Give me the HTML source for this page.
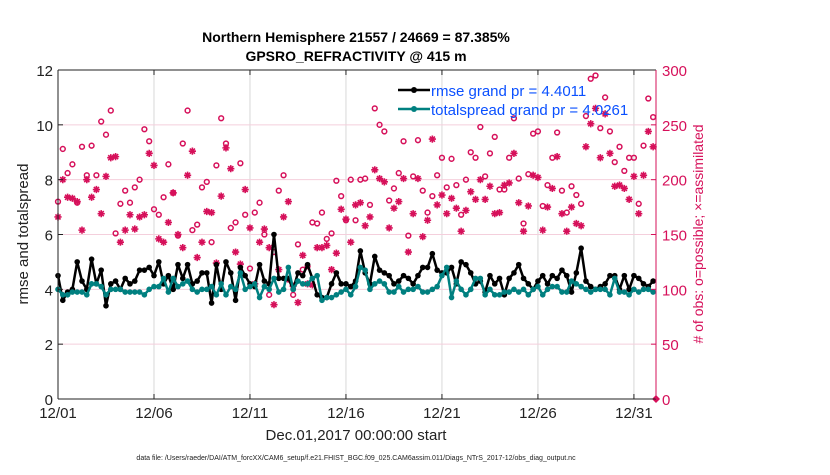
<!DOCTYPE html>
<html><head><meta charset="utf-8">
<style>
html,body{margin:0;padding:0;background:#fff;}
svg text{font-family:"Liberation Sans",Arial,sans-serif;}
</style></head>
<body>
<svg id="chart" width="830" height="470" viewBox="0 0 830 470" xmlns="http://www.w3.org/2000/svg">
<rect x="0" y="0" width="830" height="470" fill="#fff"/>
<text x="356" y="42" text-anchor="middle" font-size="14" font-weight="bold">Northern Hemisphere 21557 / 24669 = 87.385%</text>
<text x="356" y="61" text-anchor="middle" font-size="14" font-weight="bold">GPSRO_REFRACTIVITY @ 415 m</text>
<g id="grid"></g>
<g id="series"></g>
<g id="axes"></g>
<text transform="translate(28,234) rotate(-90)" text-anchor="middle" font-size="15" fill="#222">rmse and totalspread</text>
<text transform="translate(703,234) rotate(-90)" text-anchor="middle" font-size="14" fill="#d6105a"># of obs: o=possible; ×=assimilated</text>
<text x="356" y="440" text-anchor="middle" font-size="15" fill="#222">Dec.01,2017 00:00:00 start</text>
<text x="356" y="460" text-anchor="middle" font-size="7" fill="#222">data file: /Users/raeder/DAI/ATM_forcXX/CAM6_setup/f.e21.FHIST_BGC.f09_025.CAM6assim.011/Diags_NTrS_2017-12/obs_diag_output.nc</text>
<g>
<line x1="398" y1="90" x2="430" y2="90" stroke="#000" stroke-width="2.5"/>
<circle cx="414" cy="90" r="3" fill="#000"/>
<text x="431" y="96" font-size="15" fill="#0a50ff">rmse grand pr = 4.4011</text>
<line x1="398" y1="109" x2="430" y2="109" stroke="#008080" stroke-width="2.5"/>
<circle cx="414" cy="109" r="3" fill="#008080"/>
<text x="431" y="115" font-size="15" fill="#0a50ff">totalspread grand pr = 4.0261</text>
</g>
</svg>
<script>
const rmse=[4.5,3.6,3.9,4.0,5.0,4.3,4.0,5.1,4.2,4.7,3.4,4.2,4.3,4.0,4.4,4.2,4.3,4.7,4.7,4.8,4.5,5.0,4.2,4.5,4.0,4.9,4.4,4.9,4.2,4.3,4.6,4.6,3.5,4.9,4.0,5.0,4.6,3.6,4.8,4.5,4.2,4.1,4.9,4.3,4.2,6.0,4.4,4.4,4.4,4.0,4.6,4.5,4.9,4.4,3.8,3.7,3.7,4.2,4.6,4.2,4.2,4.1,
4.3,5.4,4.6,4.2,5.2,4.7,4.6,4.5,4.2,4.3,4.5,4.4,4.2,4.5,4.8,4.8,5.3,4.7,4.6,4.6,4.8,4.2,5.0,4.9,4.6,4.2,4.3,3.9,4.5,4.2,4.4,3.8,4.4,4.6,4.9,4.4,4.2,4.0,4.3,4.5,4.2,4.5,4.4,4.7,4.5,3.9,4.6,5.5,4.3,4.1,4.0,4.1,4.2,4.5,4.5,4.0,4.5,4.0,4.5,4.4,4.2,4.1,4.3];
const spread=[4.0,3.8,3.8,3.9,3.9,3.9,3.8,4.2,4.2,4.1,3.8,4.0,4.0,4.0,3.9,3.9,3.9,3.9,3.8,4.0,4.1,4.1,4.4,3.9,4.4,4.1,4.2,4.3,4.0,3.9,4.0,4.0,4.1,3.8,4.2,3.8,4.1,4.0,4.6,4.0,4.1,4.2,3.7,4.1,4.0,4.4,3.9,4.0,4.8,4.0,4.3,4.2,4.2,4.4,4.5,3.6,3.7,3.7,3.8,3.9,4.0,3.8,
4.1,4.8,4.7,4.0,4.2,4.3,4.2,3.9,3.9,4.1,3.9,4.0,4.0,4.1,3.9,3.9,4.0,4.1,4.5,4.8,3.7,4.3,4.0,3.8,4.0,4.4,4.4,3.8,4.0,3.8,3.8,3.9,3.9,4.0,3.9,4.0,3.8,4.0,4.1,3.8,4.0,4.1,4.1,3.9,3.9,4.3,4.2,4.1,4.0,3.9,4.0,4.0,4.0,3.8,4.4,3.9,3.9,3.8,4.0,3.9,4.0,4.0,3.9];
const possible=[180,228,206,214,179,230,204,231,204,253,241,263,151,178,190,179,193,200,246,235,173,168,184,214,188,149,233,263,154,159,193,198,143,213,256,233,156,161,215,168,119,170,179,150,95,134,190,204,109,95,141,118,121,161,160,170,146,151,199,185,163,200,
163,200,201,177,265,250,244,181,192,206,235,149,203,236,190,170,185,204,220,193,219,195,168,200,225,220,248,203,224,239,191,191,220,256,201,160,205,242,244,176,195,220,243,190,170,194,186,178,258,292,295,247,275,244,216,230,208,220,220,178,231,274,257];
const assim=[166,200,184,183,180,154,200,184,191,169,203,220,221,143,154,168,155,166,168,224,213,146,143,161,188,150,138,204,226,129,143,171,170,124,185,229,210,134,123,191,156,105,143,155,138,86,118,166,180,103,88,131,105,104,138,138,140,118,133,173,164,143,
177,179,158,166,209,201,198,156,174,180,201,134,169,201,148,163,237,177,186,169,183,174,153,172,189,182,200,182,194,169,170,195,197,224,179,153,176,204,202,154,175,192,221,169,153,175,160,158,230,251,265,220,260,224,194,195,192,182,203,169,204,244,230];
const xTickLabels=["12/01","12/06","12/11","12/16","12/21","12/26","12/31"];
const xTickDays=[0,5,10,15,20,25,30];
const yLeftTicks=[0,2,4,6,8,10,12];
const yRightTicks=[0,50,100,150,200,250,300];

const X0=58,X1=656,Y0=399,Y1=70,DAYS=31.15;
const xS=d=>X0+d*(X1-X0)/DAYS;
const yL=v=>Y0-v*(Y0-Y1)/12;
const yR=v=>Y0-v*(Y0-Y1)/300;
const NS="http://www.w3.org/2000/svg";
function mk(tag,attrs,parent){const e=document.createElementNS(NS,tag);for(const k in attrs)e.setAttribute(k,attrs[k]);parent.appendChild(e);return e;}
const grid=document.getElementById('grid'),ser=document.getElementById('series'),ax=document.getElementById('axes');

xTickDays.forEach((d,i)=>{
  const g=mk('line',{x1:xS(d),x2:xS(d),y1:Y1,y2:Y0,stroke:'#d8d8d8','stroke-width':1},grid);
  
  
  const t=mk('line',{x1:xS(d),x2:xS(d),y1:Y0,y2:Y0-5,stroke:'#222'},ax);
  
  
  const t2=mk('line',{x1:xS(d),x2:xS(d),y1:Y1,y2:Y1+5,stroke:'#222'},ax);
  
  
  const l=mk('text',{x:xS(d),y:Y0+19,'text-anchor':'middle','font-size':15,fill:'#222'},ax);
  l.textContent=xTickLabels[i];
  
  
});
yRightTicks.forEach(v=>{
  if(v>0&&v<300){const g=mk('line',{x1:X0,x2:X1,y1:yR(v),y2:yR(v),stroke:'#f4cfdc','stroke-width':1},grid);
  
  }
  const t=mk('line',{x1:X1,x2:X1-5,y1:yR(v),y2:yR(v),stroke:'#d6105a'},ax);
  
  
  const l=mk('text',{x:X1+6,y:yR(v)+6,'font-size':15,fill:'#d6105a'},ax);
  l.textContent=v;
  
  
});
yLeftTicks.forEach(v=>{
  const t=mk('line',{x1:X0,x2:X0+5,y1:yL(v),y2:yL(v),stroke:'#222'},ax);
  
  
  const l=mk('text',{x:X0-5,y:yL(v)+6,'text-anchor':'end','font-size':15,fill:'#222'},ax);
  l.textContent=v;
  
  
});
const frame=[[X0,Y1,X0,Y0,'#222'],[X0,Y0,X1,Y0,'#222'],[X0,Y1,X1,Y1,'#222'],[X1,Y1,X1,Y0,'#d6105a']];
frame.forEach(f=>{const a=mk('line',{x1:f[0],y1:f[1],x2:f[2],y2:f[3],stroke:f[4],'stroke-width':1},ax);
  
  });

const day=i=>i/4;
// possible circles
possible.forEach((v,i)=>{
  const c=mk('circle',{cx:xS(day(i)),cy:yR(v),r:2.4,fill:'none',stroke:'#d6105a','stroke-width':1.5},ser);
  
  
});
// assimilated asterisks
assim.forEach((v,i)=>{
  const x=xS(day(i)),y=yR(v),r=3.6;
  let d='';
  for(let k=0;k<4;k++){const a=k*Math.PI/4;d+=`M${x-r*Math.cos(a)},${y-r*Math.sin(a)}L${x+r*Math.cos(a)},${y+r*Math.sin(a)}`;}
  const p=mk('path',{d:d,stroke:'#d6105a','stroke-width':1.6,fill:'none'},ser);
  
  
});
function line(arr,col,name){
  const pts=arr.map((v,i)=>xS(day(i))+','+yL(v)).join(' ');
  const pl=mk('polyline',{points:pts,fill:'none',stroke:col,'stroke-width':2.5,'stroke-linejoin':'round'},ser);
  
  
  arr.forEach((v,i)=>{const c=mk('circle',{cx:xS(day(i)),cy:yL(v),r:2.8,fill:col},ser);
    
    });
}
line(rmse,'#000','rmse');
line(spread,'#008080','totalspread');
const dm=mk('path',{d:`M${X1-4},${Y0}L${X1},${Y0-4}L${X1+4},${Y0}L${X1},${Y0+4}Z`,fill:'#d6105a'},ser);


</script>
</body></html>
